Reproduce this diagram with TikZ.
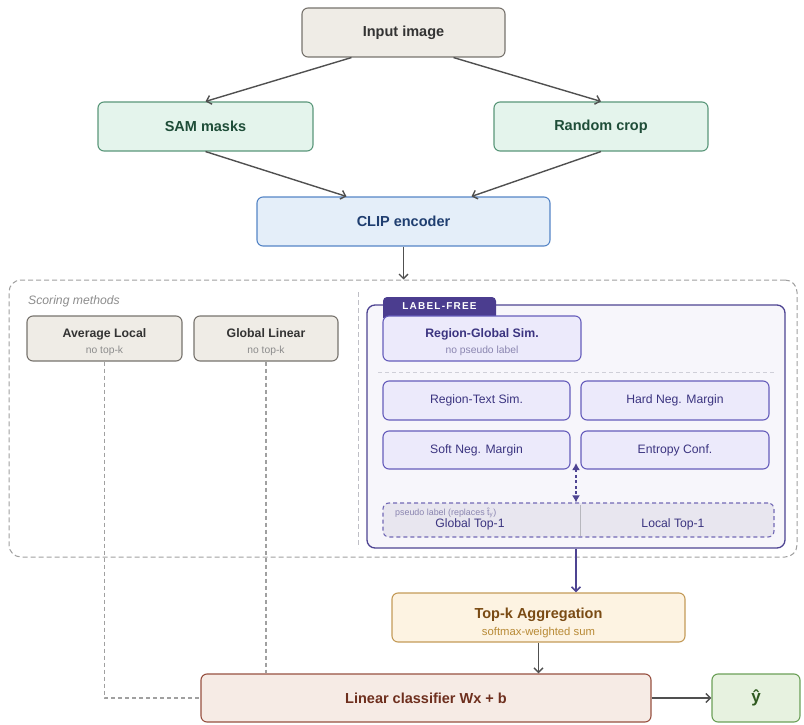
\documentclass[tikz,border=0pt]{standalone}
\usepackage{fontspec}
\setmainfont{Liberation Sans}
\usetikzlibrary{arrows.meta}

\definecolor{grayfill}{HTML}{EFECE6}
\definecolor{graydraw}{HTML}{77736D}
\definecolor{graytext}{HTML}{333333}
\definecolor{subgray}{HTML}{8C8C8C}
\definecolor{mintfill}{HTML}{E4F4EC}
\definecolor{mintdraw}{HTML}{5A977A}
\definecolor{minttext}{HTML}{1E4D38}
\definecolor{bluefill}{HTML}{E4EEF9}
\definecolor{bluedraw}{HTML}{5585C6}
\definecolor{bluetext}{HTML}{1F3E70}
\definecolor{panelfill}{HTML}{F7F6FB}
\definecolor{paneldraw}{HTML}{4E4492}
\definecolor{tagfill}{HTML}{4B3D8F}
\definecolor{lavfill}{HTML}{ECEAFB}
\definecolor{lavdraw}{HTML}{665DBC}
\definecolor{lavtext}{HTML}{3B3480}
\definecolor{lavsub}{HTML}{8A85B0}
\definecolor{pseudofill}{HTML}{E8E6EF}
\definecolor{pseudodraw}{HTML}{7269B5}
\definecolor{topkfill}{HTML}{FDF3E2}
\definecolor{topkdraw}{HTML}{C49B58}
\definecolor{topktext}{HTML}{7A4B14}
\definecolor{topksub}{HTML}{B88A36}
\definecolor{linfill}{HTML}{F6EBE5}
\definecolor{lindraw}{HTML}{975040}
\definecolor{lintext}{HTML}{6E2F1E}
\definecolor{yfill}{HTML}{E7F2E0}
\definecolor{ydraw}{HTML}{6CA058}
\definecolor{ytext}{HTML}{2F5A1F}
\definecolor{arrgray}{HTML}{505050}
\definecolor{dashgray}{HTML}{A0A0A0}
\definecolor{sepgray}{HTML}{CFCFD8}

\newcommand{\subline}{\fontsize{10.3}{12}\selectfont\mdseries}
\newcommand{\toppad}[1]{\rule{0pt}{#1}}

\tikzset{
  box/.style={draw, rounded corners=6pt, line width=1.1pt, align=center,
    minimum height=49pt, font=\fontsize{14.5}{17}\selectfont\bfseries},
  graybox/.style={box, fill=grayfill, draw=graydraw, text=graytext},
  mintbox/.style={box, fill=mintfill, draw=mintdraw, text=minttext},
  bluebox/.style={box, fill=bluefill, draw=bluedraw, text=bluetext},
  methbox/.style={box, fill=grayfill, draw=graydraw, text=graytext,
    minimum height=45pt, font=\fontsize{12.3}{14}\selectfont\bfseries},
  lavbox/.style={box, fill=lavfill, draw=lavdraw, text=lavtext,
    minimum height=39pt, font=\fontsize{12.2}{14}\selectfont},
  arr/.style={-{Straight Barb[length=4.5pt,width=9pt]}, line width=1.4pt, arrgray},
  parr/.style={-{Straight Barb[length=4.5pt,width=9pt]}, line width=1.6pt, paneldraw},
  dashln/.style={dashed, dash pattern=on 4pt off 3pt, line width=1.2pt, dashgray},
}

\begin{document}
\begin{tikzpicture}[x=1pt,y=-1pt]
  \useasboundingbox (0,0) rectangle (804,725);

  % input and two branches
  \node[graybox, minimum width=203pt] (input) at (403.5,32.5) {Input image};
  \node[mintbox, minimum width=215pt] (sam) at (205.5,126.5) {SAM masks};
  \node[mintbox, minimum width=214pt] (crop) at (601,126.5) {Random crop};
  \node[bluebox, minimum width=293pt] (clip) at (403.5,221.5) {CLIP encoder};

  \draw[arr] ([xshift=-52pt]input.south) -- (sam.north);
  \draw[arr] ([xshift=50pt]input.south) -- (crop.north);
  \draw[arr] (sam.south) -- ([xshift=-57pt]clip.north);
  \draw[arr] (crop.south) -- ([xshift=68pt]clip.north);

  % scoring methods
  \node[draw=dashgray, dashed, dash pattern=on 5pt off 3pt, line width=1pt,
    rounded corners=12pt, minimum width=788pt, minimum height=277pt] (scoring) at (403,418.5) {};
  \draw[arr] (clip.south) -- (clip.south |- scoring.north);
  \draw[dashed, dash pattern=on 5pt off 3pt, line width=0.9pt, sepgray!80!gray] (358,292) -- (358,548);
  \node[anchor=west, inner sep=0pt, text=subgray, font=\fontsize{12.2}{14}\selectfont\itshape]
    (scorelbl) at (28,301) {Scoring methods};

  \node[methbox, minimum width=155pt] (avg) at (104.5,338.5)
    {\toppad{17pt}Average Local\\[2pt]{\subline\color{subgray}no top-k}};
  \node[methbox, minimum width=144pt] (glob) at (266,338.5)
    {\toppad{17pt}Global Linear\\[2pt]{\subline\color{subgray}no top-k}};

  % label-free panel
  \node[draw=paneldraw, fill=panelfill, line width=1.3pt, rounded corners=8pt,
    minimum width=418pt, minimum height=243pt] (panel) at (576,426.5) {};
  \fill[tagfill] (383,318) {[rounded corners=4pt] -- (383,297) -- (496,297)} -- (496,318) -- cycle;
  \node[text=white, font=\fontsize{10}{11}\selectfont\bfseries\addfontfeatures{LetterSpace=12}]
    (tag) at (439.5,306.5) {LABEL-FREE};
  \node[lavbox, minimum width=198pt, minimum height=45pt, font=\fontsize{12.3}{14}\selectfont\bfseries]
    (rglob) at (482,338.5) {\toppad{17pt}Region-Global Sim.\\[2pt]{\subline\color{lavsub}no pseudo label}};
  \draw[dashed, dash pattern=on 4pt off 3pt, line width=0.8pt, sepgray] (378,372) -- (775,372);

  \node[lavbox, minimum width=187pt] (rtext) at (476.5,400.5) {Region-Text Sim.};
  \node[lavbox, minimum width=188pt] (hard) at (675,400.5) {Hard Neg. Margin};
  \node[lavbox, minimum width=187pt, minimum height=38pt] (soft) at (476.5,450) {Soft Neg. Margin};
  \node[lavbox, minimum width=188pt, minimum height=38pt] (entropy) at (675,450) {Entropy Conf.};

  \node[draw=pseudodraw, fill=pseudofill, dashed, dash pattern=on 4pt off 3pt, line width=1.1pt,
    rounded corners=6pt, minimum width=391pt, minimum height=34pt] (pseudo) at (578.5,520) {};
  \draw[sepgray!70!gray, line width=0.6pt] (580,505) -- (580,536);
  \node[text=lavtext, font=\fontsize{12.2}{14}\selectfont] (gtop) at (470,524.5) {Global Top-1};
  \node[text=lavtext, font=\fontsize{12.2}{14}\selectfont] (ltop) at (673,524.5) {Local Top-1};
  \node[anchor=west, inner sep=0pt, text=lavsub, font=\fontsize{8.9}{10}\selectfont]
    (pslbl) at (395,513) {pseudo label (replaces \^{t}\textsubscript{y})};

  \coordinate (dtop) at (576,463);
  \draw[{Latex[length=7pt,width=8pt]}-{Latex[length=7pt,width=8pt]}, dashed,
    dash pattern=on 3pt off 2.5pt, line width=1.4pt, paneldraw] (dtop) -- (dtop |- pseudo.north);

  % aggregation and classifier
  \node[box, fill=topkfill, draw=topkdraw, text=topktext, minimum width=293pt] (topk) at (538.5,617.5)
    {\toppad{22pt}Top-k Aggregation\\[0pt]{\fontsize{11.3}{13}\selectfont\mdseries\color{topksub}softmax-weighted sum}};
  \node[box, fill=linfill, draw=lindraw, text=lintext, minimum width=450pt, minimum height=48pt]
    (linear) at (426,698) {Linear classifier Wx + b};
  \node[box, fill=yfill, draw=ydraw, text=ytext, minimum width=88pt, minimum height=48pt,
    font=\fontsize{17}{19}\selectfont\bfseries] (yhat) at (756,698) {ŷ};

  \draw[parr] (panel.south) -- (panel.south |- topk.north);
  \draw[arr] (topk.south) -- (topk.south |- linear.north);
  \draw[arr] (linear.east) -- (yhat.west);
  \draw[dashln] (avg.south) |- (linear.west);
  \draw[dashln] (glob.south) -- (glob.south |- linear.north);
\end{tikzpicture}
\end{document}
